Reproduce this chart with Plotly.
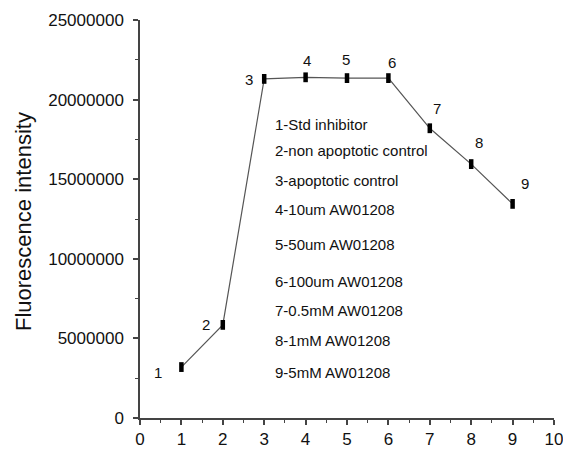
import plotly.graph_objects as go

# ---- data ----
groups = [1, 2, 3, 4, 5, 6, 7, 8, 9]
fluorescence = [3200000, 5850000, 21300000, 21400000, 21350000, 21350000, 18200000, 15950000, 13450000]
point_labels = ["1", "2", "3", "4", "5", "6", "7", "8", "9"]
legend_lines = [
    "1-Std inhibitor",
    "2-non apoptotic control",
    "3-apoptotic control",
    "4-10um AW01208",
    "5-50um AW01208",
    "6-100um AW01208",
    "7-0.5mM AW01208",
    "8-1mM AW01208",
    "9-5mM AW01208",
]
x_ticks = [0, 1, 2, 3, 4, 5, 6, 7, 8, 9, 10]
y_ticks = [0, 5000000, 10000000, 15000000, 20000000, 25000000]

# ---- layout geometry (pixels) ----
W, H = 563, 450
L, R, T, B = 140, 9, 20, 32
plot_h = H - T - B
plot_w = W - L - R

label_shifts = [(-23, -5), (-17, 0), (-15, -1), (1, 17), (-1, 19), (4, 16), (7, 20), (8, 22), (12, 20)]
legend_y_px = [125, 150, 180, 210, 244, 281, 310, 340, 372]

font_family = "Liberation Sans, Arial, sans-serif"
txt_color = "#111111"
axis_color = "#444444"

fig = go.Figure()
fig.add_trace(go.Scatter(
    x=groups, y=fluorescence, mode="lines",
    line=dict(color="#555555", width=1.2),
    showlegend=False, hoverinfo="skip",
))
fig.add_trace(go.Scatter(
    x=groups, y=fluorescence, mode="markers",
    marker=dict(symbol="line-ns-open", size=7, color="#000000",
                line=dict(width=4.5, color="#000000")),
    showlegend=False, hoverinfo="x+y",
))

annotations = []
for gx, gy, lab, (dx, dy) in zip(groups, fluorescence, point_labels, label_shifts):
    annotations.append(dict(
        x=gx, y=gy, xref="x", yref="y", text=lab, showarrow=False,
        xshift=dx, yshift=dy, xanchor="center", yanchor="middle",
        font=dict(family=font_family, size=15, color=txt_color),
    ))

for line, ypx in zip(legend_lines, legend_y_px):
    annotations.append(dict(
        x=(273 - L) / plot_w, y=(H - B - ypx) / plot_h, xref="paper", yref="paper",
        text=line, showarrow=False, xanchor="left", yanchor="middle",
        font=dict(family=font_family, size=15, color=txt_color),
    ))

annotations.append(dict(
    x=(23 - L) / plot_w, y=(H - B - 222) / plot_h, xref="paper", yref="paper",
    text="Fluorescence intensity", showarrow=False, textangle=-90,
    xanchor="center", yanchor="middle",
    font=dict(family=font_family, size=22, color=txt_color),
))

fig.update_layout(
    width=W, height=H,
    margin=dict(l=L, r=R, t=T, b=B, pad=0, autoexpand=False),
    paper_bgcolor="white", plot_bgcolor="white",
    annotations=annotations,
    font=dict(family=font_family, color=txt_color),
)
fig.update_xaxes(
    range=[0, 10], tickmode="array", tickvals=x_ticks,
    ticktext=[str(v) for v in x_ticks],
    showgrid=False, zeroline=False, showline=True,
    linecolor=axis_color, linewidth=1.5,
    ticks="outside", ticklen=5, tickwidth=1.5, tickcolor=axis_color,
    minor=dict(dtick=0.5, ticks="outside", ticklen=3, tickwidth=1.3, tickcolor=axis_color, showgrid=False),
    tickfont=dict(family=font_family, size=17, color=txt_color),
    ticklabeloverflow="allow", automargin=False,
)
fig.update_yaxes(
    range=[0, 25000000], tickmode="array", tickvals=y_ticks,
    ticktext=[str(v) for v in y_ticks],
    showgrid=False, zeroline=False, showline=True,
    linecolor=axis_color, linewidth=1.5,
    ticks="outside", ticklen=5, tickwidth=1.5, tickcolor=axis_color,
    minor=dict(dtick=2500000, ticks="outside", ticklen=3, tickwidth=1.3, tickcolor=axis_color, showgrid=False),
    tickfont=dict(family=font_family, size=17, color=txt_color),
    ticklabelstandoff=6,
    ticklabeloverflow="allow", automargin=False,
)

fig.write_html("out.html")
